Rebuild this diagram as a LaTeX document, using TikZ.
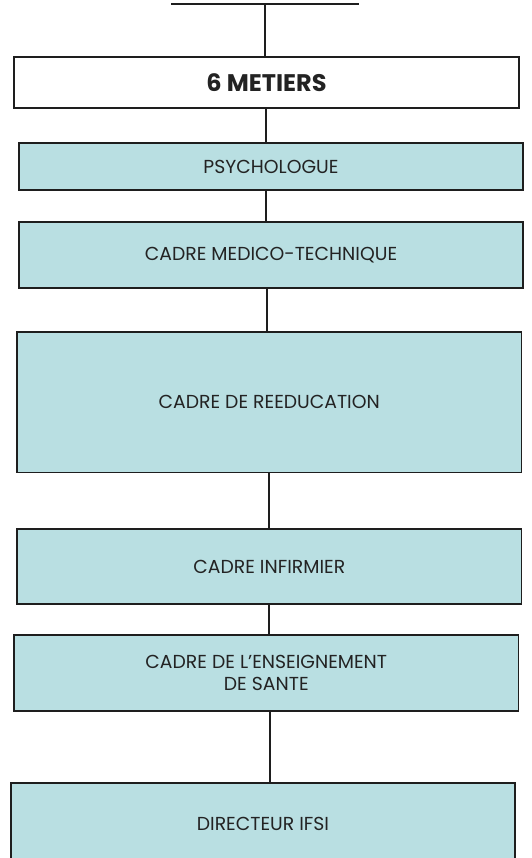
\documentclass[tikz,border=0pt]{standalone}
\usepackage{fontspec}
\setmainfont{Poppins}
\definecolor{boxfill}{RGB}{185,223,226}
\definecolor{ink}{RGB}{30,30,30}
\definecolor{txt}{RGB}{35,35,35}
\tikzset{
  conn/.style={draw=ink, line width=1.3pt},
  metierbox/.style={draw=ink, line width=1.3pt, fill=white, text=txt, align=center, inner sep=0pt,
    font=\fontsize{24}{28}\selectfont\bfseries},
  jobbox/.style={draw=ink, line width=1.3pt, fill=boxfill, text=txt, align=center, inner sep=0pt,
    font=\fontsize{18.8}{22}\selectfont}
}
\begin{document}
\begin{tikzpicture}[x=1pt,y=-1pt]
\useasboundingbox (0,0) rectangle (531,858);
\clip (0,0) rectangle (531,858);
\coordinate (barL) at (171,4);
\coordinate (barR) at (359,4);
\coordinate (barM) at (265,4);
\node[metierbox, minimum width=505pt, minimum height=51pt] (top) at (266.5,82.5) {6 METIERS};
\node[jobbox, minimum width=504pt, minimum height=47pt] (psy) at (271,166.5) {PSYCHOLOGUE};
\node[jobbox, minimum width=504pt, minimum height=66pt] (med) at (271,255) {CADRE MEDICO-TECHNIQUE};
\node[jobbox, minimum width=504.5pt, minimum height=140.7pt] (ree) at (269.25,402.3) {CADRE DE REEDUCATION};
\node[jobbox, minimum width=504.7pt, minimum height=75pt] (inf) at (269.3,566.5) {CADRE INFIRMIER};
\node[jobbox, minimum width=504.7pt, minimum height=76pt] (ens) at (266.3,673) {CADRE DE L’ENSEIGNEMENT\\DE SANTE};
\node[jobbox, minimum width=504pt, minimum height=82pt] (dir) at (263,824) {DIRECTEUR IFSI};
\draw[conn] (barL) -- (barR);
\draw[conn] (barM) -- (barM |- top.north);
\draw[conn] ([xshift=-0.5pt]top.south) -- ([xshift=-0.5pt]top.south |- psy.north);
\draw[conn] ([xshift=-5pt]psy.south) -- ([xshift=-5pt]psy.south |- med.north);
\draw[conn] ([xshift=-4pt]med.south) -- ([xshift=-4pt]med.south |- ree.north);
\draw[conn] ([xshift=-0.25pt]ree.south) -- ([xshift=-0.25pt]ree.south |- inf.north);
\draw[conn] ([xshift=-0.3pt]inf.south) -- ([xshift=-0.3pt]inf.south |- ens.north);
\draw[conn] ([xshift=3.7pt]ens.south) -- ([xshift=3.7pt]ens.south |- dir.north);
\end{tikzpicture}
\end{document}
